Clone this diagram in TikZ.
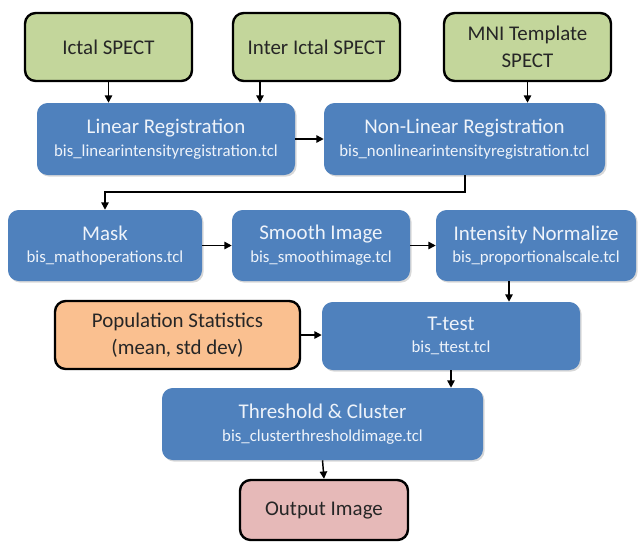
\documentclass[tikz,border=0pt]{standalone}
\usepackage{fontspec}
\setmainfont{Carlito}
\usetikzlibrary{arrows.meta,shadows}
\definecolor{inputgreen}{HTML}{C3D69B}
\definecolor{stepblue}{HTML}{4F81BD}
\definecolor{poporange}{HTML}{FAC090}
\definecolor{outpink}{HTML}{E6B9B8}
\definecolor{textdark}{HTML}{262626}
\definecolor{textlight}{HTML}{EEF3FA}
\newcommand\ttlfont{\fontsize{15.7}{20}\selectfont}
\newcommand\subfnt{\fontsize{12.6}{14}\selectfont}
\newcommand\steptext[2]{{\ttlfont #1}\\[5pt]{\subfnt #2}}
\begin{document}
\begin{tikzpicture}[x=0.75pt,y=-0.75pt,
  inbox/.style={draw=black, line width=1.8pt, rounded corners=8pt, text=textdark,
    align=center, font=\ttlfont, inner sep=0pt},
  stepbox/.style={rounded corners=8pt, fill=stepblue, text=textlight, align=center,
    inner sep=0pt, drop shadow={shadow xshift=1.2pt, shadow yshift=-1.2pt, fill=black!30, opacity=0.5}},
  arr/.style={-{Triangle[length=5.5pt,width=5.5pt]}, line width=1.1pt, draw=black},
]
\useasboundingbox (0,0) rectangle (638,547);
% inputs
\node[inbox, fill=inputgreen, minimum width=125.25pt, minimum height=51pt] (ictal) at (108.5,47) {Ictal SPECT};
\node[inbox, fill=inputgreen, minimum width=125.25pt, minimum height=51pt] (inter) at (316.5,47) {Inter Ictal SPECT};
\node[inbox, fill=inputgreen, minimum width=125.25pt, minimum height=51pt] (mni) at (527.5,47) {MNI Template\\SPECT};
% registration
\node[stepbox, minimum width=193.5pt, minimum height=54pt] (lin) at (166,139) {\steptext{Linear Registration}{bis\_linearintensityregistration.tcl}};
\node[stepbox, minimum width=210.75pt, minimum height=54pt] (nonlin) at (464.5,139) {\steptext{Non-Linear Registration}{bis\_nonlinearintensityregistration.tcl}};
% processing row
\node[stepbox, minimum width=145.5pt, minimum height=53.25pt] (mask) at (105,245.5) {\steptext{Mask}{bis\_mathoperations.tcl}};
\node[stepbox, minimum width=133.5pt, minimum height=53.25pt] (smooth) at (321,245.5) {\steptext{Smooth Image}{bis\_smoothimage.tcl}};
\node[stepbox, minimum width=150pt, minimum height=53.25pt] (norm) at (536,245.5) {\steptext{Intensity Normalize}{bis\_proportionalscale.tcl}};
% stats
\node[inbox, fill=poporange, minimum width=183.75pt, minimum height=51pt] (pop) at (177.5,335) {Population Statistics\\(mean, std dev)};
\node[stepbox, minimum width=193.5pt, minimum height=51pt] (ttest) at (451,336) {\steptext{T-test}{bis\_ttest.tcl}};
\node[stepbox, minimum width=240.75pt, minimum height=54pt] (thr) at (322.5,424) {\steptext{Threshold \& Cluster}{bis\_clusterthresholdimage.tcl}};
\node[inbox, fill=outpink, minimum width=126pt, minimum height=45pt] (out) at (324,510) {Output Image};
% connectors
\coordinate (interx) at (260,0);
\coordinate (bend) at (465,192);
\draw[arr] (ictal.south) -- (ictal.south |- lin.north);
\draw[arr] (inter.south -| interx) -- (lin.north -| interx);
\draw[arr] (mni.south) -- (mni.south |- nonlin.north);
\draw[arr] (lin.east) -- (nonlin.west);
\draw[arr] (nonlin.south -| bend) -- (bend) -| (mask.north);
\draw[arr] (mask.east) -- (smooth.west);
\draw[arr] (smooth.east) -- (norm.west);
\coordinate (normx) at (509,0);
\draw[arr] (norm.south -| normx) -- (ttest.north -| normx);
\draw[arr] (pop.east) -- (pop.east -| ttest.west);
\draw[arr] (ttest.south) -- (ttest.south |- thr.north);
\draw[arr] (thr.south) -- (out.north);
\end{tikzpicture}
\end{document}
